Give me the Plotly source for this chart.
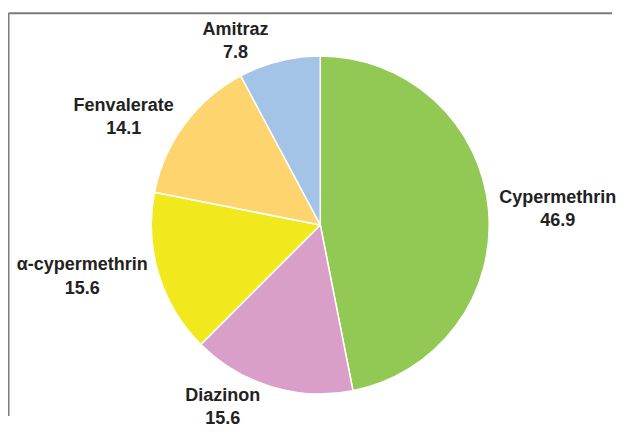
import plotly.graph_objects as go

labels = ["Cypermethrin", "Diazinon", "α-cypermethrin", "Fenvalerate", "Amitraz"]
values = [46.9, 15.6, 15.6, 14.1, 7.8]
colors = ["#92C954", "#D99FC8", "#F1E81E", "#FDD46E", "#A3C4E6"]

# the page keeps its default 8px body margin, so the figure is sized to fit the window
OFF = 8
W, H = 633 - 2 * OFF, 441 - 2 * OFF
cx, cy, r = 327 - OFF, 234 - OFF, 176

fig = go.Figure(go.Pie(
    labels=labels,
    values=values,
    sort=False,
    direction="clockwise",
    rotation=0,
    marker=dict(colors=colors, line=dict(color="white", width=1.5)),
    textposition="outside",
    texttemplate="%{label}<br>%{value}",
    textfont=dict(family="Liberation Sans", size=18, color="#222222", weight="bold"),
    showlegend=False,
    hoverinfo="label+value",
    domain=dict(x=[(cx - r) / W, (cx + r) / W], y=[(H - cy - r) / H, (H - cy + r) / H]),
))

# frame (top and left edges visible; right/bottom fall outside the picture)
fx, fy = 0.5 / W, (H - 5.5) / H
fig.add_shape(type="line", xref="paper", yref="paper", x0=fx, x1=1, y0=fy, y1=fy,
              line=dict(color="#7a7a7a", width=2))
fig.add_shape(type="line", xref="paper", yref="paper", x0=fx, x1=fx, y0=0, y1=fy,
              line=dict(color="#7a7a7a", width=2))

fig.update_layout(
    width=W, height=H,
    margin=dict(l=0, r=0, t=0, b=0),
    paper_bgcolor="white",
    plot_bgcolor="white",
)

fig.write_html("out.html", config={"displayModeBar": False})
